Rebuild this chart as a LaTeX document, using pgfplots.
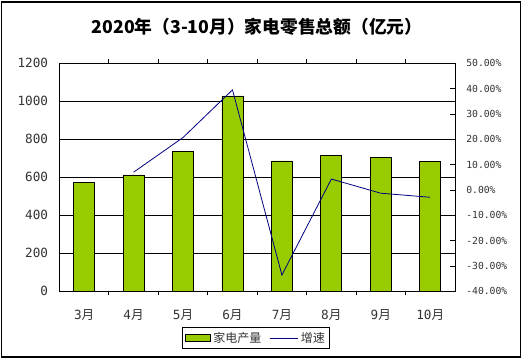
\documentclass[border=0pt]{standalone}
\usepackage{pgfplots}
\pgfplotsset{compat=1.18}
\usepackage{fontspec}
\setmainfont{Noto Sans CJK SC}
\newfontfamily\mono{DejaVu Sans Mono}
\definecolor{barg}{HTML}{99CC00}
\definecolor{navyl}{HTML}{000080}
\pgfplotsset{
  barleg/.style={legend image code/.code={\draw[##1] (0pt,-2.6pt) rectangle (19pt,2.6pt);}},
  lineleg/.style={legend image code/.code={\draw[##1] (0pt,0pt) -- (21pt,0pt);}},
}
\pgfplotstableread{
x y
0 574
1 612
2 737
3 1028
4 686
5 716
6 705
7 682
}\bars
\pgfplotstableread{
x y
1 7.0
2 20.7
3 39.5
4 -33.6
5 4.3
6 -1.3
7 -2.9
}\growth
\begin{document}
\begin{tikzpicture}[x=0.75pt,y=0.75pt]
\useasboundingbox (0,0) rectangle (522,359);
\draw[black,line width=0.8pt] (1.5,2) rectangle (520.5,357);
\node[font=\bfseries\fontsize{13.3}{15}\selectfont] at (257,332) {2020年（3-10月）家电零售总额（亿元）};
\begin{axis}[
  at={(44.6pt,50.8pt)}, anchor=south west, scale only axis,
  width=296.6pt, height=171pt,
  xmin=-0.5, xmax=7.5, ymin=0, ymax=1200,
  ytick={0,200,...,1200},
  ymajorgrids, grid style={black,line width=0.6pt},
  axis line style={black,line width=0.6pt},
  xtick={0,...,7},
  xticklabels={{\mono 3}月,{\mono 4}月,{\mono 5}月,{\mono 6}月,{\mono 7}月,{\mono 8}月,{\mono 9}月,{\mono 10}月},
  major x tick style={draw=none},
  minor xtick={0.5,1.5,...,6.5},
  minor tick length=3pt, major tick length=3pt,
  tick align=inside,
  tick style={black,line width=0.6pt},
  ytick pos=left,
  ticklabel style={font=\fontsize{9.5}{11}\selectfont, text=black!80},
  yticklabel style={font=\mono\fontsize{9.5}{11}\selectfont, xshift=-5pt},
  /pgf/number format/assume math mode=true,
  /pgf/number format/1000 sep={},
  xticklabel style={yshift=-7pt},
  ybar, bar width=15.75pt,
]
\addplot[ybar, bar shift=0pt, fill=barg, draw=black, line width=0.6pt] table[x=x,y=y]{\bars};
\end{axis}
\begin{axis}[
  at={(44.6pt,50.8pt)}, anchor=south west, scale only axis,
  width=296.6pt, height=171pt,
  xmin=-0.5, xmax=7.5, ymin=-40, ymax=50,
  ytick={-40,-30,...,50},
  axis y line*=right, axis x line=none,
  axis line style={black,line width=0.6pt},
  tick align=inside, major tick length=3.5pt,
  tick style={black,line width=0.6pt},
  ticklabel style={font=\mono\fontsize{7.3}{9}\selectfont, text=black!80},
  yticklabel style={xshift=5pt},
  /pgf/number format/assume math mode=true,
  yticklabel={\pgfmathprintnumber[fixed,fixed zerofill,precision=2]{\tick}\%},
  legend style={at={(0.497,-0.205)}, anchor=center, draw=black, line width=0.6pt,
    font=\fontsize{9}{10}\selectfont, text=black!80, inner sep=1.5pt,
    legend cell align=left, /tikz/every even column/.append style={column sep=4pt}},
  legend columns=2,
]
\addlegendimage{barleg, fill=barg, draw=black, line width=0.6pt}
\addlegendentry{家电产量}
\addplot[navyl, line width=0.6pt, mark=none, lineleg] table[x=x,y=y]{\growth};
\addlegendentry{增速}
\end{axis}
\end{tikzpicture}
\end{document}
